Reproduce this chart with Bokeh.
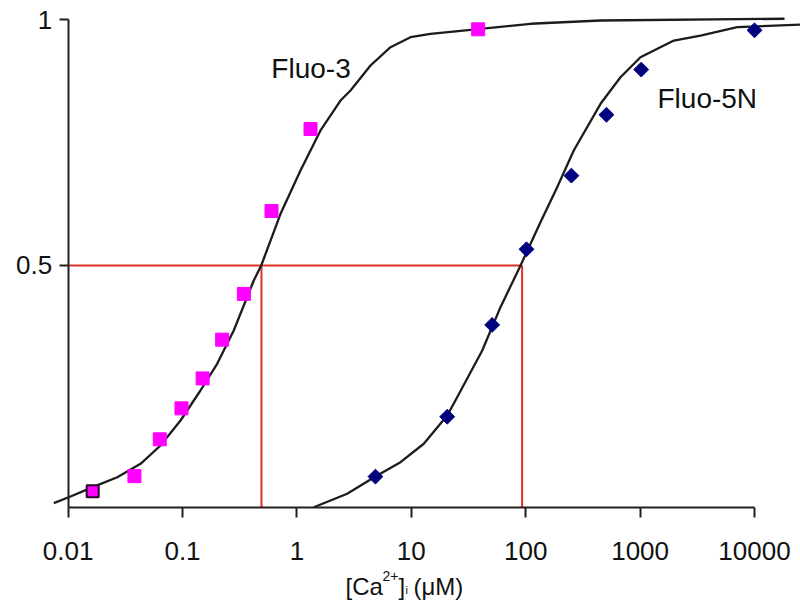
from bokeh.plotting import figure
from bokeh.models import Range1d, FixedTicker, Label
from bokeh.embed import file_html
from bokeh.resources import INLINE

# ---------------- data ----------------
x_ticks = [0.01, 0.1, 1, 10, 100, 1000, 10000]
x_tick_labels = ["0.01", "0.1", "1", "10", "100", "1000", "10000"]
y_ticks = [0.5, 1]
y_tick_labels = ["0.5", "1"]

# measured points, Fluo-3 (magenta squares)
fluo3_ca = [0.0164, 0.038, 0.0633, 0.098, 0.150, 0.222, 0.344, 0.600, 1.315, 38.4]
fluo3_frac = [0.040, 0.071, 0.146, 0.209, 0.270, 0.349, 0.442, 0.611, 0.778, 0.981]

# measured points, Fluo-5N (navy diamonds)
fluo5n_ca = [4.86, 20.6, 50.9, 101.6, 251, 508, 1023, 10000]
fluo5n_frac = [0.070, 0.192, 0.379, 0.533, 0.683, 0.807, 0.899, 0.979]

# fitted curves
fluo3_fit_ca = [0.0075, 0.0105, 0.0164, 0.0269, 0.0430, 0.0642, 0.0961, 0.1435,
                0.2009, 0.2805, 0.4198, 0.4877, 0.7194, 1.075, 1.608, 2.405,
                2.942, 4.40, 6.58, 9.84, 14.7, 38.4, 110, 451, 18300]
fluo3_fit_frac = [0.0159, 0.0295, 0.0485, 0.0688, 0.0961, 0.1334, 0.1843, 0.2454,
                  0.2998, 0.3676, 0.4695, 0.5000, 0.6053, 0.6935, 0.7750, 0.8360,
                  0.8564, 0.9073, 0.9446, 0.9650, 0.9719, 0.9813, 0.9923, 0.9990, 1.0025]

fluo5n_fit_ca = [1.406, 2.75, 4.86, 8.05, 12.86, 20.6, 24.3, 41.7, 60.2, 90.1,
                 134.6, 188.4, 263, 451, 674, 1007, 1972, 3373, 7063, 25230]
fluo5n_fit_frac = [0.0077, 0.0350, 0.0703, 0.0994, 0.1369, 0.1945, 0.2250, 0.3269,
                   0.4151, 0.5000, 0.5882, 0.6595, 0.7342, 0.8293, 0.8835, 0.9242,
                   0.9582, 0.9684, 0.9853, 0.9908]

# half-saturation guides
half = 0.5
kd_fluo3 = 0.49
kd_fluo5n = 93.0

# ---------------- figure ----------------
X_START, X_END = 0.002565, 25240
Y_START, Y_END = -0.1823, 1.0397
Y_AXIS_AT = 0.0071          # level where the x axis is drawn
X_AXIS_AT = x_ticks[0]      # level where the y axis is drawn

p = figure(width=800, height=600, x_axis_type="log",
           x_range=Range1d(X_START, X_END), y_range=Range1d(Y_START, Y_END),
           output_backend="svg", toolbar_location=None,
           min_border=0, min_border_left=0, min_border_right=0,
           min_border_top=0, min_border_bottom=0)
p.outline_line_color = None
p.grid.visible = False
p.background_fill_color = "white"
p.border_fill_color = "white"

AXIS_COLOR = "#231f20"
TEXT_COLOR = "#111111"
FONT = "Liberation Sans"

# x axis
xa = p.xaxis[0]
xa.fixed_location = Y_AXIS_AT
xa.ticker = FixedTicker(ticks=x_ticks)
xa.major_label_overrides = dict(zip(x_ticks, x_tick_labels))
xa.bounds = (x_ticks[0], x_ticks[-1])
xa.minor_tick_line_color = None
xa.major_tick_in = 0
xa.major_tick_out = 10
xa.major_tick_line_width = 2
xa.major_tick_line_color = AXIS_COLOR
xa.axis_line_width = 2
xa.axis_line_color = AXIS_COLOR
xa.major_label_text_font = FONT
xa.major_label_text_font_size = "26px"
xa.major_label_text_color = TEXT_COLOR
xa.major_label_standoff = 24

# y axis
ya = p.yaxis[0]
ya.fixed_location = X_AXIS_AT
ya.ticker = FixedTicker(ticks=y_ticks)
ya.major_label_overrides = dict(zip(y_ticks, y_tick_labels))
ya.bounds = (Y_AXIS_AT, y_ticks[-1])
ya.minor_tick_line_color = None
ya.major_tick_in = 0
ya.major_tick_out = 9
ya.major_tick_line_width = 2
ya.major_tick_line_color = AXIS_COLOR
ya.axis_line_width = 2
ya.axis_line_color = AXIS_COLOR
ya.major_label_text_font = FONT
ya.major_label_text_font_size = "26px"
ya.major_label_text_color = TEXT_COLOR
ya.major_label_standoff = 7

# red half-saturation guides
RED = "#dc3228"
p.line([X_AXIS_AT, kd_fluo5n], [half, half], line_color=RED, line_width=2)
p.line([kd_fluo3, kd_fluo3], [half, Y_AXIS_AT], line_color=RED, line_width=2)
p.line([kd_fluo5n, kd_fluo5n], [half, Y_AXIS_AT], line_color=RED, line_width=2)

# fitted curves
p.line(fluo3_fit_ca, fluo3_fit_frac, line_color="#1c1c1c", line_width=2.3,
       line_join="round")
p.line(fluo5n_fit_ca, fluo5n_fit_frac, line_color="#1c1c1c", line_width=2.3,
       line_join="round")

# data points
p.scatter(fluo3_ca[1:], fluo3_frac[1:], marker="square", size=13,
          fill_color="#ff00ff", line_color="#ff00ff")
p.scatter(fluo3_ca[:1], fluo3_frac[:1], marker="square", size=12,
          fill_color="#ff00ff", line_color="#2a0a2a", line_width=2)
p.scatter(fluo5n_ca, fluo5n_frac, marker="square", angle=0.7853981634, size=10.5,
          fill_color="#00007f", line_color="#00007f")

# series labels
p.add_layout(Label(x=0.598, y=0.9006, text="Fluo-3", text_font=FONT,
                   text_font_size="28px", text_color=TEXT_COLOR,
                   text_baseline="alphabetic"))
p.add_layout(Label(x=1419, y=0.8395, text="Fluo-5N", text_font=FONT,
                   text_font_size="28px", text_color=TEXT_COLOR,
                   text_baseline="alphabetic"))

# axis title: [Ca2+]i (μM) built from pieces (screen px from frame bottom-left)
BASE_Y = 14
pieces = [
    # text, left x, baseline shift, font px
    ("[Ca", 345, 0, 24),
    ("2+", 382, 11, 14),
    ("]", 398, 0, 24),
    ("i", 405, -3, 11),
    ("(\u03bcM)", 413, 0, 24),
]
for txt, x0, dy, fs in pieces:
    p.add_layout(Label(x=x0, y=BASE_Y + dy, x_units="screen", y_units="screen",
                       text=txt, text_font=FONT, text_font_size=f"{fs}px",
                       text_color=TEXT_COLOR, text_baseline="alphabetic"))

open("out.html", "w").write(file_html(p, INLINE))
